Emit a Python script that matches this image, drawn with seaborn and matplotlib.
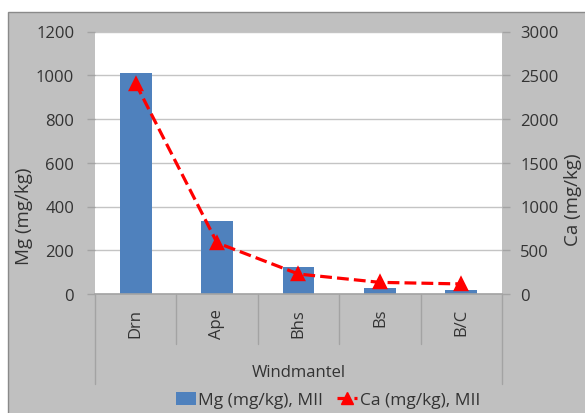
import matplotlib
matplotlib.use("Agg")
import matplotlib.pyplot as plt
from matplotlib.patches import Rectangle, Patch
from matplotlib.lines import Line2D
import seaborn as sns

# Soil horizons of the Windmantel profile and their Mg / Ca contents
horizons = ["Drn", "Ape", "Bhs", "Bs", "B/C"]
mg_values = [1012, 333, 122, 26, 19]      # Mg (mg/kg), MII
ca_values = [2405, 585, 228, 133, 115]    # Ca (mg/kg), MII

mg_ticks = [0, 200, 400, 600, 800, 1000, 1200]
ca_ticks = [0, 500, 1000, 1500, 2000, 2500, 3000]

group_label = "Windmantel"
mg_label = "Mg (mg/kg)"
ca_label = "Ca (mg/kg)"
legend_labels = ["Mg (mg/kg), MII", "Ca (mg/kg), MII"]

BAR_BLUE = "#4F81BD"
LINE_RED = "#FF0000"
TEXT = "#333333"
FRAME_GRAY = "#c0c0c0"
SEP_GRAY = "#a3a3a3"
GRID_GRAY = "#c4c4c4"

TICK_FS = 12
TITLE_FS = 13.5
LEGEND_FS = 12.5

sns.set_theme(style="white")
plt.rcParams["font.family"] = ["Open Sans", "DejaVu Sans"]
plt.rcParams["text.color"] = TEXT
plt.rcParams["axes.labelcolor"] = TEXT
plt.rcParams["xtick.color"] = TEXT
plt.rcParams["ytick.color"] = TEXT

W, H = 585, 414
fig = plt.figure(figsize=(W / 100, H / 100), dpi=100, facecolor="white")

# grey chart-area backdrop
backdrop = Rectangle((8 / W, -0.05), 1.2, 1 - 13 / H + 0.05,
                     transform=fig.transFigure, facecolor=FRAME_GRAY,
                     edgecolor="#8a8a8a", linewidth=1.0, zorder=-10)
fig.patches.append(backdrop)

left, right, bottom, top = 95 / W, 502 / W, 1 - 295 / H, 1 - 32.5 / H
ax = fig.add_axes([left, bottom, right - left, top - bottom])
ax.set_facecolor("white")
ax.set_zorder(1)

sns.barplot(x=horizons, y=mg_values, ax=ax, color=BAR_BLUE, saturation=1,
            width=0.39, linewidth=0)
ax.set_ylim(0, 1200)
ax.set_yticks(mg_ticks)
ax.set_yticklabels([str(t) for t in mg_ticks], fontsize=TICK_FS)
ax.yaxis.grid(True, color=GRID_GRAY, linewidth=1.0)
ax.set_axisbelow(True)

ax2 = ax.twinx()
ax2.set_zorder(2)
ax2.patch.set_visible(False)
sns.pointplot(x=horizons, y=ca_values, ax=ax2, color=LINE_RED, markers="^",
              linestyles="--", markersize=8, linewidth=2.3, errorbar=None)
ax2.set_ylim(0, 3000)
ax2.set_yticks(ca_ticks)
ax2.set_yticklabels([str(t) for t in ca_ticks], fontsize=TICK_FS)
ax2.set_xlim(-0.5, len(horizons) - 0.5)
ax.set_xlim(-0.5, len(horizons) - 0.5)

for a in (ax, ax2):
    for s in a.spines.values():
        s.set_visible(False)
    a.set_xlabel("")
    a.set_ylabel("")
ax.spines["bottom"].set_visible(True)
ax.spines["bottom"].set_color(SEP_GRAY)
ax.spines["bottom"].set_linewidth(1.2)

ax.tick_params(axis="y", which="major", length=6, width=1, color=SEP_GRAY,
               pad=9, left=True, labelleft=True)
ax2.tick_params(axis="y", which="major", length=6, width=1, color=SEP_GRAY,
                pad=7, right=True, labelright=True)
ax.tick_params(axis="x", length=0, pad=10)
ax2.tick_params(axis="x", length=0, labelbottom=False)
ax.set_xticks(range(len(horizons)))
ax.set_xticklabels(horizons, rotation=90, fontsize=TICK_FS, va="top",
                   ha="center")

# category separators below the axis
plot_h = 295 - 32.5
xform = ax.get_xaxis_transform()
for i in range(len(horizons) + 1):
    edge = i - 0.5
    depth = 90 if i in (0, len(horizons)) else 50
    ax.plot([edge, edge], [0, -depth / plot_h], transform=xform, color=SEP_GRAY,
            linewidth=1.0, clip_on=False, zorder=1)

fig.text((left + right) / 2, 1 - 373 / H, group_label, ha="center",
         va="center", fontsize=TICK_FS, color=TEXT)
fig.text(24 / W, 1 - 216 / H, mg_label, rotation=90, ha="center",
         va="center", fontsize=TITLE_FS, color=TEXT)
fig.text(573 / W, 1 - 200 / H, ca_label, rotation=90, ha="center",
         va="center", fontsize=TITLE_FS, color=TEXT)

handles = [Patch(facecolor=BAR_BLUE, edgecolor="none"),
           Line2D([], [], color=LINE_RED, linestyle="--", linewidth=2.3,
                  marker="^", markersize=8)]
fig.legend(handles, legend_labels, loc="center",
           bbox_to_anchor=(328 / W, 1 - 401 / H), ncol=2, frameon=False,
           fontsize=LEGEND_FS, handlelength=1.15, handleheight=0.8,
           handletextpad=0.15, columnspacing=0.8, borderpad=0)

fig.savefig("out.png", dpi=100, facecolor="white")
